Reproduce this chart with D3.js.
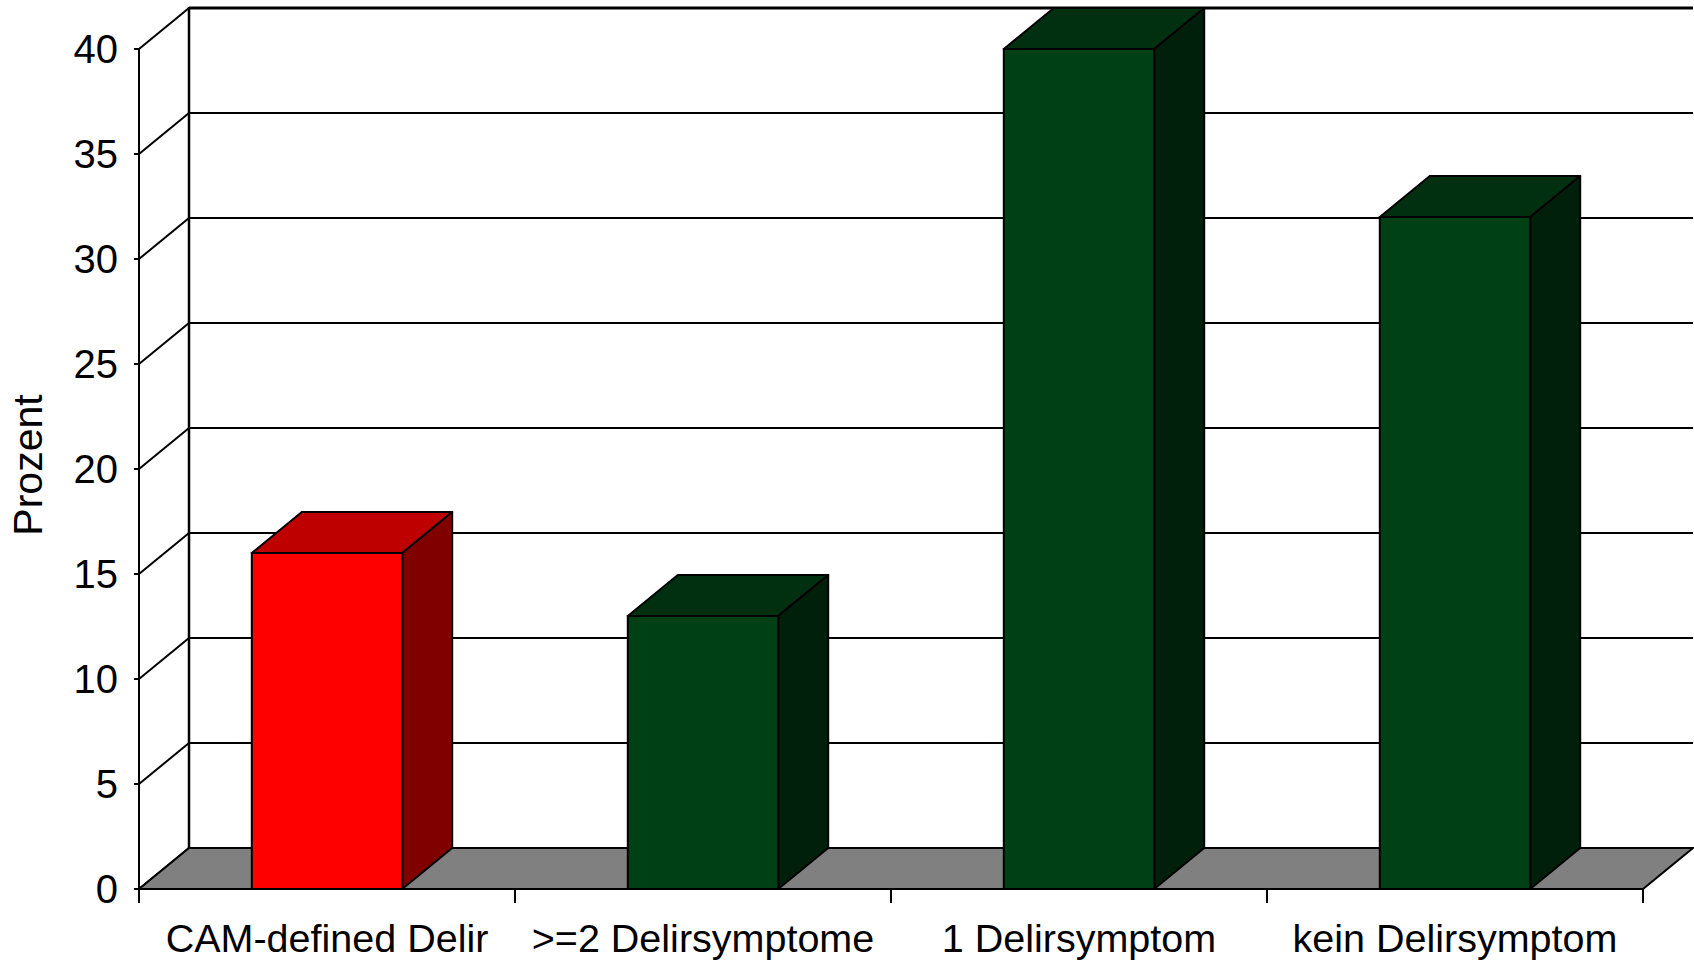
<!DOCTYPE html>
<html>
<head>
<meta charset="utf-8">
<script src="https://cdn.jsdelivr.net/npm/d3@7"></script>
<style>
  html, body { margin: 0; padding: 0; background: #fff; }
  svg { display: block; }
  text { font-family: "Liberation Sans", Arial, sans-serif; fill: #000; }
</style>
</head>
<body>
<svg id="chart" width="1694" height="961"></svg>
<script>
// Data
const categories = ["CAM-defined Delir", ">=2 Delirsymptome", "1 Delirsymptom", "kein Delirsymptom"];
const values = [16, 13, 40, 32];
const yTicks = [0, 5, 10, 15, 20, 25, 30, 35, 40];
const yLabel = "Prozent";

// Face colours per bar: front, top, side
const frontColors = ["#ff0000", "#004015", "#004015", "#004015"];
const topColors   = ["#bf0000", "#003010", "#003010", "#003010"];
const sideColors  = ["#800000", "#00200b", "#00200b", "#00200b"];

(function () {
  const svg = d3.select("#chart");

  // Front plane of the 3D plot and depth offset
  const plotLeft = 139, plotRight = 1643, plotBottom = 889, plotTop = 49;
  const dx = 50, dy = -41;

  const x = d3.scaleBand()
    .domain(categories)
    .range([plotLeft, plotRight])
    .paddingInner(0.6)
    .paddingOuter(0.3);

  const y = d3.scaleLinear().domain([0, 40]).range([plotBottom, plotTop]);

  const lineW = 2;
  const g = svg.append("g");
  const pts = arr => arr.map(p => p.join(",")).join(" ");

  // Back wall grid lines
  g.selectAll("line.grid")
    .data(yTicks)
    .join("line")
    .attr("class", "grid")
    .attr("x1", plotLeft + dx).attr("x2", plotRight + dx)
    .attr("y1", d => y(d) + dy).attr("y2", d => y(d) + dy)
    .attr("stroke", "#000")
    .attr("stroke-width", d => d === 40 ? 3 : lineW);

  // Side wall diagonals
  g.selectAll("line.diag")
    .data(yTicks)
    .join("line")
    .attr("class", "diag")
    .attr("x1", plotLeft).attr("x2", plotLeft + dx)
    .attr("y1", d => y(d)).attr("y2", d => y(d) + dy)
    .attr("stroke", "#000")
    .attr("stroke-width", lineW);

  // Back wall left edge
  g.append("line")
    .attr("x1", plotLeft + dx).attr("x2", plotLeft + dx)
    .attr("y1", y(0) + dy).attr("y2", y(40) + dy - 1)
    .attr("stroke", "#000").attr("stroke-width", lineW + 0.5);

  // Floor
  g.append("polygon")
    .attr("points", pts([[plotLeft, y(0)], [plotRight, y(0)], [plotRight + dx, y(0) + dy], [plotLeft + dx, y(0) + dy]]))
    .attr("fill", "#808080")
    .attr("stroke", "#000")
    .attr("stroke-width", lineW);

  // Bars
  const bars = g.selectAll("g.bar")
    .data(categories.map((c, i) => ({ c, v: values[i], i })))
    .join("g")
    .attr("class", "bar");

  bars.each(function (d) {
    const b = d3.select(this);
    const x0 = x(d.c), x1 = x0 + x.bandwidth();
    const y0 = y(0), y1 = y(d.v);
    // top face
    b.append("polygon")
      .attr("points", pts([[x0, y1], [x1, y1], [x1 + dx, y1 + dy], [x0 + dx, y1 + dy]]))
      .attr("fill", topColors[d.i]).attr("stroke", "#000").attr("stroke-width", lineW).attr("stroke-linejoin", "round");
    // side face
    b.append("polygon")
      .attr("points", pts([[x1, y0], [x1, y1], [x1 + dx, y1 + dy], [x1 + dx, y0 + dy]]))
      .attr("fill", sideColors[d.i]).attr("stroke", "#000").attr("stroke-width", lineW).attr("stroke-linejoin", "round");
    // front face
    b.append("rect")
      .attr("x", x0).attr("y", y1)
      .attr("width", x1 - x0).attr("height", y0 - y1)
      .attr("fill", frontColors[d.i]).attr("stroke", "#000").attr("stroke-width", lineW);
  });

  // Y axis
  const yAxis = svg.append("g");
  yAxis.append("line")
    .attr("x1", plotLeft).attr("x2", plotLeft)
    .attr("y1", y(0)).attr("y2", y(40))
    .attr("stroke", "#000").attr("stroke-width", lineW);
  yAxis.selectAll("line.tick")
    .data(yTicks)
    .join("line")
    .attr("class", "tick")
    .attr("x1", plotLeft - 5).attr("x2", plotLeft)
    .attr("y1", d => y(d)).attr("y2", d => y(d))
    .attr("stroke", "#000").attr("stroke-width", lineW);
  yAxis.selectAll("text")
    .data(yTicks)
    .join("text")
    .attr("x", 118)
    .attr("y", d => y(d))
    .attr("dy", "0.36em")
    .attr("text-anchor", "end")
    .attr("font-size", 40)
    .text(d => d);

  // X axis
  const xAxis = svg.append("g");
  xAxis.append("line")
    .attr("x1", plotLeft).attr("x2", plotRight)
    .attr("y1", y(0)).attr("y2", y(0))
    .attr("stroke", "#000").attr("stroke-width", lineW);
  // category boundaries: left edge of each band slot plus the right end
  const bounds = categories.map((c, i) => plotLeft + i * (plotRight - plotLeft) / categories.length);
  bounds.push(plotRight);
  xAxis.selectAll("line.tick")
    .data(bounds)
    .join("line")
    .attr("class", "tick")
    .attr("x1", d => d).attr("x2", d => d)
    .attr("y1", y(0)).attr("y2", y(0) + 14)
    .attr("stroke", "#000").attr("stroke-width", lineW);
  xAxis.selectAll("text")
    .data(categories)
    .join("text")
    .attr("x", d => x(d) + x.bandwidth() / 2)
    .attr("y", 952)
    .attr("text-anchor", "middle")
    .attr("font-size", 39.5)
    .text(d => d);

  // Y axis title
  svg.append("text")
    .attr("transform", "translate(42,465) rotate(-90)")
    .attr("text-anchor", "middle")
    .attr("font-size", 41)
    .text(yLabel);
})();
</script>
</body>
</html>
